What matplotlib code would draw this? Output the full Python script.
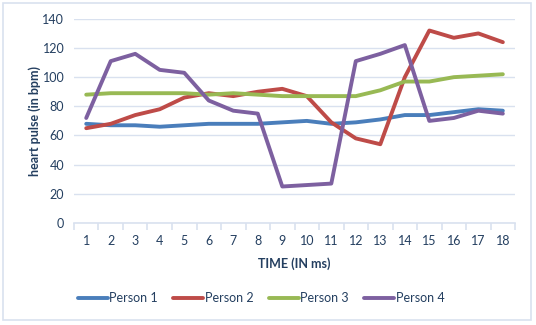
import numpy as np
import matplotlib.pyplot as plt
from matplotlib.patches import Rectangle

# heart pulse readings per time step
time = list(range(1, 19))
person1 = [68, 67, 67, 66, 67, 68, 68, 68, 69, 70, 68, 69, 71, 74, 74, 76, 78, 77]
person2 = [65, 68, 74, 78, 86, 89, 87, 90, 92, 87, 69, 58, 54, 100, 132, 127, 130, 124]
person3 = [88, 89, 89, 89, 89, 88, 89, 88, 87, 87, 87, 87, 91, 97, 97, 100, 101, 102]
person4 = [72, 111, 116, 105, 103, 84, 77, 75, 25, 26, 27, 111, 116, 122, 70, 72, 77, 75]
names = ['Person 1', 'Person 2', 'Person 3', 'Person 4']
colors = ['#4a7ebb', '#be4b48', '#98b954', '#7d60a0']

plt.rcParams['font.family'] = ['Lato', 'DejaVu Sans']
txt = '#243f60'
grid = '#d9e1ef'

fig = plt.figure(figsize=(5.36, 3.25), dpi=100)
fig.patches.append(Rectangle((0.006, 0.015), 0.984, 0.975, transform=fig.transFigure,
                             fill=False, edgecolor=grid, lw=1.2))
ax = fig.add_axes([0.138, 0.314, 0.823, 0.628])

for ys, n, c in zip([person1, person2, person3, person4], names, colors):
    ax.plot(time, ys, color=c, lw=2.8, label=n, solid_capstyle='round')

ax.set_xlim(0.5, 18.5)
ax.set_ylim(0, 140)
ax.set_yticks(np.arange(0, 141, 20))
ax.set_xticks(time)
ax.set_xticks(np.arange(0.5, 18.6, 1), minor=True)
ax.grid(axis='y', color=grid, lw=1)
ax.set_axisbelow(True)
for s in ['top', 'right', 'left']:
    ax.spines[s].set_visible(False)
ax.spines['bottom'].set_color(grid)
ax.spines['bottom'].set_linewidth(1.2)
ax.tick_params(axis='x', which='major', length=0, pad=9, labelsize=9, labelcolor=txt)
ax.tick_params(axis='x', which='minor', length=5, color=grid, width=1.2)
ax.tick_params(axis='y', length=0, pad=7, labelsize=9, labelcolor=txt)

ax.set_xlabel('TIME (IN ms)', fontsize=9, fontweight='bold', color=txt, labelpad=7)
ax.set_ylabel('heart pulse (in bpm)', fontsize=9, fontweight='bold', color=txt, labelpad=1)

fig.legend(loc='center', bbox_to_anchor=(0.487, 0.083), ncol=4, frameon=False,
           fontsize=9, labelcolor=txt, handlelength=2.4, handletextpad=0.1,
           columnspacing=1.25)

fig.savefig('out.png', dpi=100)
